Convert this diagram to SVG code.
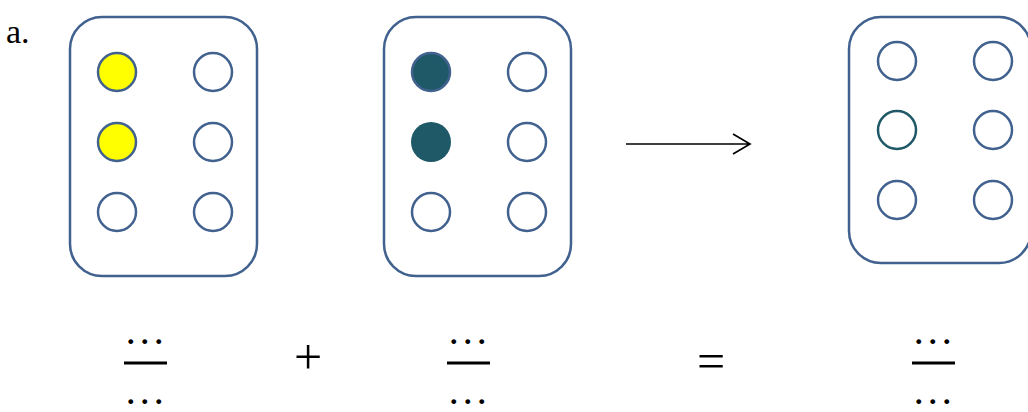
<svg xmlns="http://www.w3.org/2000/svg" width="1028" height="412" viewBox="0 0 1028 412">
<style>
.box{fill:#fff;stroke:#41618f;stroke-width:2.5}
.c{fill:#fff;stroke:#41618f;stroke-width:2.5}
.y{fill:#ffff00}
.d{fill:#1f5866}
.t{font-family:"Liberation Serif","Times New Roman",serif;fill:#000}
.el{font-family:"Liberation Serif","Times New Roman",serif;font-size:30px;letter-spacing:6.5px;text-anchor:middle;font-weight:bold}
.bar{stroke:#000;stroke-width:3}
</style>
<rect width="1028" height="412" fill="#fff"/>
<text class="t" x="6" y="43" font-size="34">a.</text>
<g id="box1">
<rect class="box" x="70" y="17" width="187" height="259" rx="32"/>
<circle class="c y" cx="117" cy="72" r="19"/>
<circle class="c" cx="213" cy="72" r="19"/>
<circle class="c y" cx="117" cy="142" r="19"/>
<circle class="c" cx="213" cy="142" r="19"/>
<circle class="c" cx="117" cy="212" r="19"/>
<circle class="c" cx="213" cy="212" r="19"/>
</g>
<g id="box2">
<rect class="box" x="384" y="17" width="187" height="259" rx="32"/>
<circle class="c d" cx="431" cy="72" r="19"/>
<circle class="c" cx="527" cy="72" r="19"/>
<circle class="d" cx="431" cy="142" r="20"/>
<circle class="c" cx="527" cy="142" r="19"/>
<circle class="c" cx="431" cy="212" r="19"/>
<circle class="c" cx="527" cy="212" r="19"/>
</g>
<g id="box3">
<rect class="box" x="849" y="17" width="182" height="246" rx="32"/>
<circle class="c" cx="897" cy="61" r="19"/>
<circle class="c" cx="993" cy="61" r="19"/>
<circle class="c" cx="897" cy="130" r="19" style="stroke:#1f5866"/>
<circle class="c" cx="993" cy="130" r="19"/>
<circle class="c" cx="897" cy="200" r="19"/>
<circle class="c" cx="993" cy="200" r="19"/>
</g>
<g id="connectors">
<path d="M626 144H750M733 134L750 144L733 154" fill="none" stroke="#000" stroke-width="1.7"/>
</g>
<g id="frac1">
<text class="el" x="148" y="344">...</text>
<line class="bar" x1="124" y1="363" x2="167" y2="363"/>
<text class="el" x="148" y="404">...</text>
</g>
<text class="t" x="308" y="374" font-size="50" text-anchor="middle">+</text>
<g id="frac2">
<text class="el" x="471" y="344">...</text>
<line class="bar" x1="447" y1="363" x2="490" y2="363"/>
<text class="el" x="471" y="404">...</text>
</g>
<text class="t" x="711" y="378" font-size="50" text-anchor="middle">=</text>
<g id="frac3">
<text class="el" x="936" y="344">...</text>
<line class="bar" x1="912" y1="363" x2="955" y2="363"/>
<text class="el" x="936" y="404">...</text>
</g>
</svg>
